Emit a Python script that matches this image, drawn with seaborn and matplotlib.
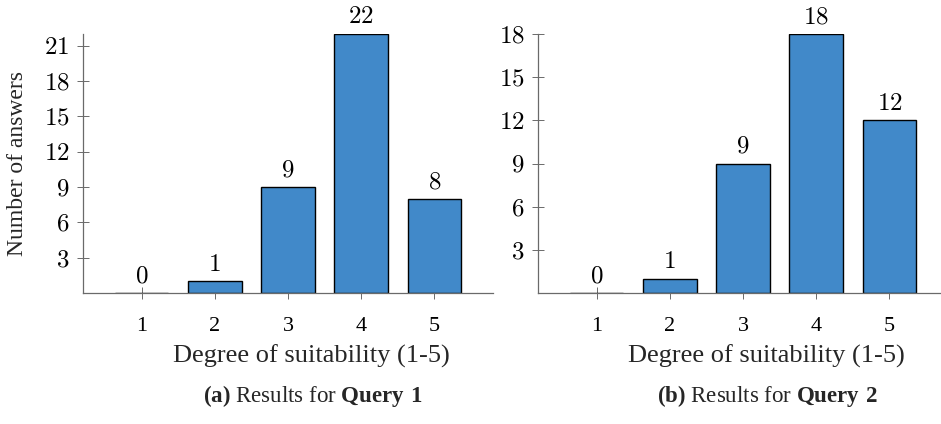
import matplotlib
matplotlib.use("Agg")
import matplotlib.pyplot as plt
import seaborn as sns
import pandas as pd

# Survey answers per suitability degree
degrees = [1, 2, 3, 4, 5]
query1_counts = [0, 1, 9, 22, 8]
query2_counts = [0, 1, 9, 18, 12]
y_ticks_q1 = [3, 6, 9, 12, 15, 18, 21]
y_ticks_q2 = [3, 6, 9, 12, 15, 18]
x_label = "Degree of suitability (1-5)"
y_label = "Number of answers"

sns.set_theme(style="ticks")
plt.rcParams["font.family"] = ["Liberation Serif", "DejaVu Serif"]
plt.rcParams["mathtext.fontset"] = "custom"
plt.rcParams["mathtext.rm"] = "Liberation Serif"
plt.rcParams["mathtext.bf"] = "Liberation Serif:bold"

BAR_COLOR = "#4189C9"
AXIS_GRAY = "#6a6a6a"

W, H = 941, 424
fig = plt.figure(figsize=(W / 100, H / 100), dpi=100)


def px_axes(x0, y0, x1, y1):
    return fig.add_axes([x0 / W, 1 - y1 / H, (x1 - x0) / W, (y1 - y0) / H])


def draw_panel(ax, counts, ymax, yticks):
    df = pd.DataFrame({"degree": degrees, "count": counts})
    sns.barplot(data=df, x="degree", y="count", native_scale=True, width=0.73,
                color=BAR_COLOR, saturation=1, edgecolor="black", linewidth=1.0,
                ax=ax)
    ax.set_xlim(0.2, 5.8)
    ax.set_ylim(0, ymax)
    ax.set_xticks(degrees)
    ax.set_yticks(yticks)
    ax.set_yticklabels([f"${v}$" for v in yticks], math_fontfamily="cm", fontsize=18)
    ax.set_xticklabels([str(d) for d in degrees], fontsize=16)
    for s in ("top", "right"):
        ax.spines[s].set_visible(False)
    for s in ("left", "bottom"):
        ax.spines[s].set_color(AXIS_GRAY)
        ax.spines[s].set_linewidth(0.9)
    ax.tick_params(axis="both", direction="inout", length=8.5, width=0.7,
                   color=AXIS_GRAY, labelcolor="black")
    ax.tick_params(axis="y", pad=5.5)
    ax.tick_params(axis="x", pad=13)
    ax.set_xlabel("")
    ax.set_ylabel("")
    for bar, v in zip(ax.patches, counts):
        ax.annotate(f"${v}$", (bar.get_x() + bar.get_width() / 2, bar.get_height()),
                    xytext=(0, 4), textcoords="offset points", ha="center", va="bottom",
                    fontsize=18, math_fontfamily="cm", color="black")
    ax.patch.set_alpha(0)


ax1 = px_axes(83, 34, 493, 293)
draw_panel(ax1, query1_counts, 22, y_ticks_q1)
ax2 = px_axes(538, 34, 948, 293)
draw_panel(ax2, query2_counts, 18, y_ticks_q2)

# axis titles and captions placed in figure pixels
fig.text(311 / W, 1 - 356 / H, x_label, ha="center", va="center", fontsize=19)
fig.text(766 / W, 1 - 356 / H, x_label, ha="center", va="center", fontsize=19)
fig.text(18 / W, 1 - 164 / H, y_label, ha="center", va="center", rotation=90, fontsize=17)
fig.text(313 / W, 1 - 396 / H, r"$\mathbf{(a)}$ Results for $\mathbf{Query\ 1}$",
         ha="center", va="center", fontsize=16.5)
fig.text(768 / W, 1 - 396 / H, r"$\mathbf{(b)}$ Results for $\mathbf{Query\ 2}$",
         ha="center", va="center", fontsize=16.5)

fig.savefig("out.png", dpi=100)
